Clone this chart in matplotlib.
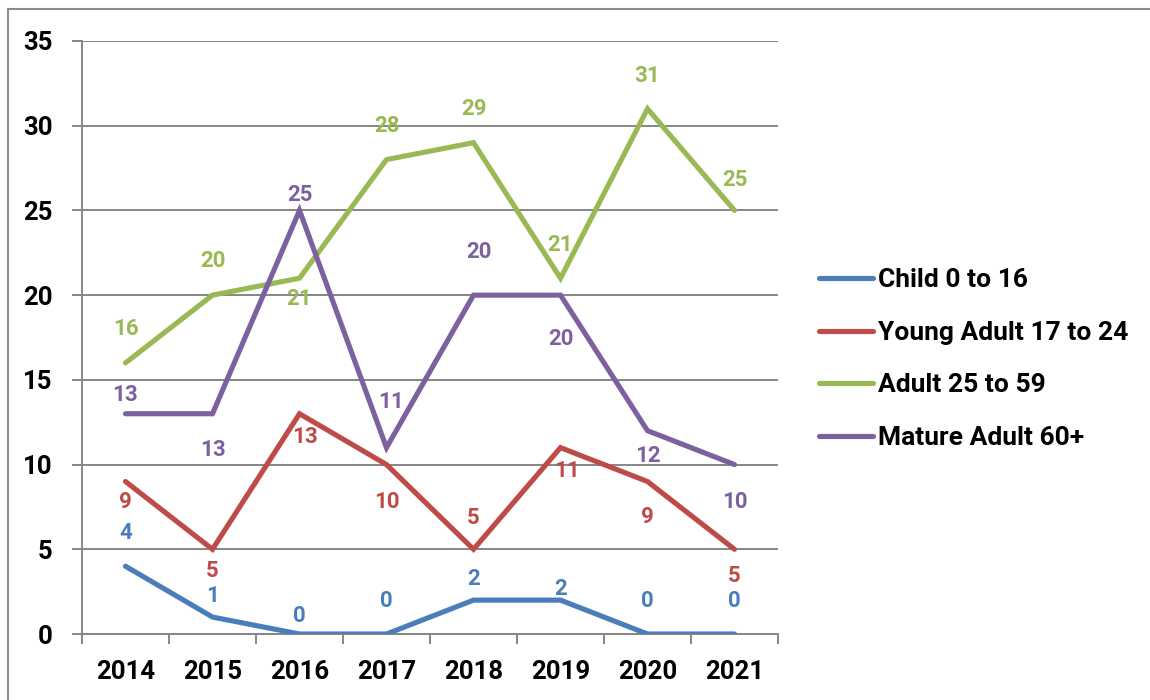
import matplotlib
matplotlib.use("Agg")
import matplotlib.pyplot as plt
from matplotlib.patches import Rectangle
from matplotlib.lines import Line2D

plt.rcParams['font.family'] = ['Roboto', 'DejaVu Sans']

years = ['2014', '2015', '2016', '2017', '2018', '2019', '2020', '2021']
series_names = ['Child 0 to 16', 'Young Adult 17 to 24', 'Adult 25 to 59', 'Mature Adult 60+']
child = [4, 1, 0, 0, 2, 2, 0, 0]
young_adult = [9, 5, 13, 10, 5, 11, 9, 5]
adult = [16, 20, 21, 28, 29, 21, 31, 25]
mature_adult = [13, 13, 25, 11, 20, 20, 12, 10]

# data-label offsets from each point, in pixels (dy > 0 moves the label up)
child_dy = [33, 21, 18, 33, 21, 11, 33, 33]
child_dx = [0, 0, 0, 0, 0, 0, 0, 0]
young_dy = [-20, -22, -23, -37, 31, -23, -35, -27]
young_dx = [0, 0, 6, 0, 0, 7, 0, 0]
adult_dy = [34, 34, -21, 34, 34, 33, 33, 30]
adult_dx = [0, 0, 0, 0, 0, 0, 0, 0]
mature_dy = [19, -36, 15, 46, 43, -44, -25, -37]
mature_dx = [0, 0, 0, 4, 5, 0, 0, 0]

colors = ['#4a7ebb', '#be4b48', '#98b954', '#7d60a0']
PX = 72 / 100  # points per pixel at 100 dpi

fig = plt.figure(figsize=(11.5, 7), dpi=100)
fig.patches.append(Rectangle((8 / 1150, -0.1), 1.2, 1 - 9 / 700 + 0.1,
                             transform=fig.transFigure, fill=False,
                             edgecolor='#8c8c8c', linewidth=1.5))

ax = fig.add_axes([82 / 1150, 1 - 634 / 700, 696 / 1150, 593 / 700])
x = list(range(len(years)))
all_series = [child, young_adult, adult, mature_adult]
all_dy = [child_dy, young_dy, adult_dy, mature_dy]
all_dx = [child_dx, young_dx, adult_dx, mature_dx]

for vals, dys, dxs, col, name in zip(all_series, all_dy, all_dx, colors, series_names):
    ax.plot(x, vals, color=col, linewidth=3.7, solid_capstyle='round',
            solid_joinstyle='miter', label=name, zorder=3)
    for xi, v, dy, dx in zip(x, vals, dys, dxs):
        ax.annotate(str(v), (xi, v), xytext=(dx * PX, dy * PX), textcoords='offset points',
                    ha='center', va='center', color=col, fontsize=16,
                    fontweight='bold', zorder=4)

ax.set_xlim(-0.5, len(years) - 0.5)
ax.set_ylim(0, 35)
ax.set_yticks(range(0, 36, 5))
ax.yaxis.grid(True, color='#868686', linewidth=1.4)
ax.set_axisbelow(True)
for s in ['top', 'right']:
    ax.spines[s].set_visible(False)
for s in ['left', 'bottom']:
    ax.spines[s].set_color('#868686')
    ax.spines[s].set_linewidth(1.4)

# category boundaries carry the x tick marks; labels sit at centres
ax.set_xticks([i - 0.5 for i in range(len(years) + 1)])
ax.set_xticklabels([''] * (len(years) + 1))
ax.set_xticks(x, minor=True)
ax.set_xticklabels(years, minor=True, fontsize=18.5, fontweight='bold')
ax.tick_params(axis='x', which='major', length=7, width=1.4, color='#868686', direction='out')
ax.tick_params(axis='x', which='minor', length=0, pad=19)
ax.tick_params(axis='y', length=7, width=1.4, color='#868686', labelsize=18.5, pad=14)
for lab in ax.get_yticklabels():
    lab.set_fontweight('bold')

handles = [Line2D([0], [0], color=c, linewidth=3.7, solid_capstyle='round') for c in colors]
leg = fig.legend(handles, series_names, loc='center left',
                 bbox_to_anchor=(795 / 1150, 1 - 359 / 700), frameon=False,
                 prop={'weight': 'bold', 'size': 19}, handlelength=2.05,
                 handletextpad=0.2, labelspacing=1.08)

fig.savefig('out.png', dpi=100, facecolor='white')
